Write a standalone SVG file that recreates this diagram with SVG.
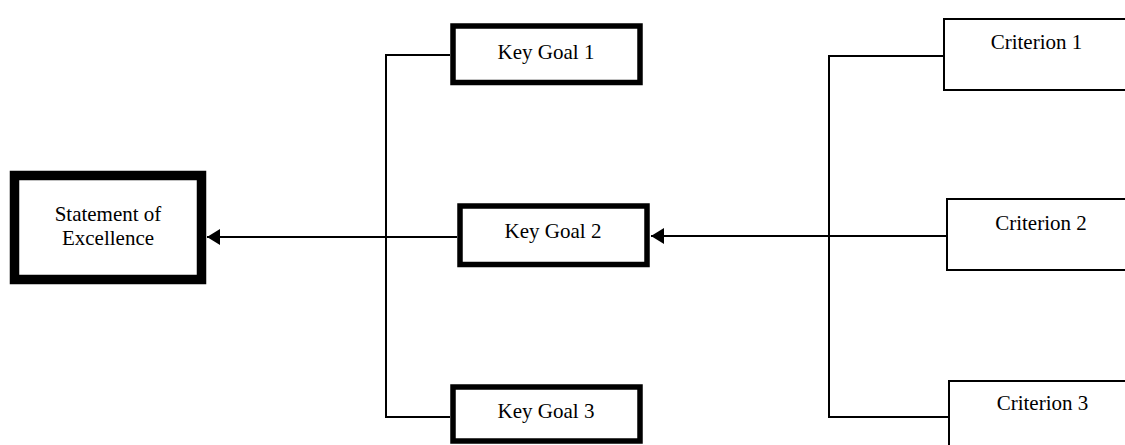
<svg xmlns="http://www.w3.org/2000/svg" width="1125" height="445" viewBox="0 0 1125 445">
  <style>
    .bg { fill: #ffffff; }
    .box { fill: #ffffff; stroke: #000000; }
    .main { stroke-width: 9.5; }
    .goal { stroke-width: 5.5; }
    .crit { stroke-width: 2; }
    .lbl { font-family: "Liberation Serif", "Times New Roman", serif; font-size: 21px; fill: #000000; text-anchor: middle; }
    .conn { fill: none; stroke: #000000; stroke-width: 2; }
  </style>
  <defs>
    <marker id="arrow" markerUnits="userSpaceOnUse" markerWidth="14" markerHeight="16" refX="13" refY="8" orient="auto">
      <path d="M0,0 L13,8 L0,16 z" fill="#000000"/>
    </marker>
  </defs>
  <rect class="bg" x="0" y="0" width="1125" height="445"/>

  <g id="connectors">
    <path class="conn" d="M450,55 H386 V417 H450"/>
    <path class="conn" d="M457,237 H207" marker-end="url(#arrow)"/>
    <path class="conn" d="M944,56 H829 V417 H949"/>
    <path class="conn" d="M947,236 H651" marker-end="url(#arrow)"/>
  </g>

  <g id="statement">
    <rect class="box main" x="14.5" y="175.5" width="187" height="104"/>
    <text class="lbl" x="108" y="221">Statement of</text>
    <text class="lbl" x="108" y="245">Excellence</text>
  </g>

  <g id="goal1">
    <rect class="box goal" x="453" y="26" width="187" height="56.5"/>
    <text class="lbl" x="546" y="59">Key Goal 1</text>
  </g>
  <g id="goal2">
    <rect class="box goal" x="460" y="206" width="187" height="58.5"/>
    <text class="lbl" x="553" y="238">Key Goal 2</text>
  </g>
  <g id="goal3">
    <rect class="box goal" x="453" y="387" width="187" height="54"/>
    <text class="lbl" x="546" y="418">Key Goal 3</text>
  </g>

  <g id="criterion1">
    <rect class="box crit" x="944" y="19" width="185" height="71"/>
    <text class="lbl" x="1036.5" y="49">Criterion 1</text>
  </g>
  <g id="criterion2">
    <rect class="box crit" x="947" y="199" width="185" height="71"/>
    <text class="lbl" x="1041" y="230">Criterion 2</text>
  </g>
  <g id="criterion3">
    <rect class="box crit" x="949" y="381" width="185" height="71"/>
    <text class="lbl" x="1042.5" y="410">Criterion 3</text>
  </g>
</svg>
